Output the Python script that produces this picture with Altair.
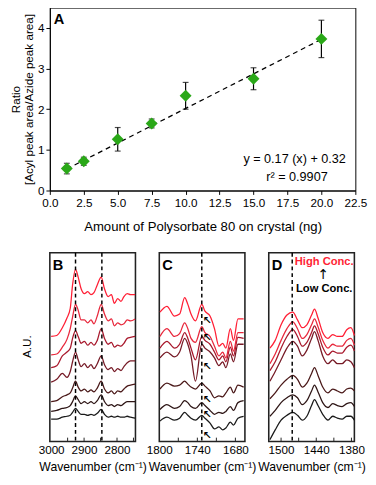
import altair as alt
import pandas as pd

FONT = "Liberation Sans"

# ---------------- Panel A data ----------------
amount = [1.25, 2.5, 5.0, 7.5, 10.0, 15.0, 20.0]
ratio = [0.54, 0.72, 1.26, 1.65, 2.33, 2.75, 3.73]
err = [0.13, 0.10, 0.29, 0.11, 0.33, 0.27, 0.46]
fit_x = [1.25, 20.0]
fit_y = [0.53, 3.72]
a_xticks = [0, 2.5, 5, 7.5, 10, 12.5, 15, 17.5, 20, 22.5]
a_yticks = [0, 1, 2, 3, 4]

# ---------------- Spectra (low conc. -> high conc.) ----------------
series = ["c1", "c2", "c3", "c4", "c5", "c6", "c7"]
colors = ["#1a1a1a", "#2e1616", "#4a1818", "#761a26", "#a8182c", "#e8283c", "#ff1f35"]

wn_b = [3000, 2983, 2966, 2952, 2942, 2935, 2926, 2918, 2909, 2899, 2889, 2879, 2870,
        2860, 2848, 2838, 2827, 2817, 2808, 2798, 2788, 2779, 2769, 2759, 2745]
b1 = [23, 23, 25, 26, 27, 30, 34, 31, 28, 28, 27, 28, 27, 29, 33, 28, 25, 26, 25, 26, 25, 25, 26, 25, 24]
b2 = [31, 32, 34, 35, 37, 41, 47, 43, 39, 41, 39, 41, 39, 42, 48, 41, 37, 38, 36, 38, 37, 39, 41, 41, 41]
b3 = [41, 42, 46, 48, 50, 55, 62, 56, 52, 54, 51, 53, 51, 55, 62, 54, 50, 52, 49, 52, 51, 54, 57, 58, 59]
b4 = [61, 64, 70, 66, 72, 82, 92, 84, 77, 80, 76, 79, 75, 80, 88, 79, 74, 76, 72, 75, 73, 77, 81, 83, 83]
b5 = [76, 78, 88, 92, 96, 106, 114, 108, 101, 103, 99, 102, 99, 104, 116, 106, 100, 102, 97, 99, 98, 101, 106, 107, 108]
b6 = [89, 90, 97, 105, 116, 128, 141, 135, 125, 125, 122, 125, 121, 129, 141, 131, 124, 126, 119, 122, 120, 121, 125, 124, 126]
b7 = [108, 109, 117, 127, 137, 161, 177, 169, 157, 152, 154, 151, 153, 161, 169, 157, 149, 151, 142, 147, 144, 149, 152, 151, 151]
b_dash = [2926, 2846]
b_labels = [3000, 2900, 2800]
b_ticks = [2950, 2900, 2850, 2800, 2750]

wn_c = [1799, 1788, 1776, 1768, 1760, 1755, 1750, 1743, 1733, 1728, 1720, 1713, 1706,
        1700, 1695, 1688, 1683, 1676, 1667]
c1 = [21, 25, 22, 24, 30, 27, 24, 22, 27, 24, 19, 13, 15, 12, 14, 20, 17, 24, 26]
c2 = [33, 38, 34, 36, 42, 40, 36, 34, 40, 37, 32, 28, 30, 29, 31, 36, 32, 40, 42]
c3 = [54, 60, 57, 58, 62, 59, 56, 54, 60, 57, 52, 45, 47, 46, 50, 56, 50, 58, 56]
c4 = [86, 92, 87, 92, 106, 100, 88, 62, 100, 96, 92, 86, 78, 82, 76, 90, 82, 100, 100]
c5 = [96, 103, 96, 100, 112, 106, 96, 84, 108, 104, 100, 92, 84, 88, 82, 97, 88, 107, 106]
c6 = [108, 116, 108, 111, 122, 116, 106, 102, 118, 112, 108, 98, 88, 92, 86, 103, 93, 112, 112]
c7 = [133, 139, 129, 131, 148, 141, 131, 124, 141, 134, 129, 116, 98, 101, 96, 116, 104, 126, 126]
c_dash = [1733]
c_labels = [1800, 1740, 1680]
c_ticks = [1770, 1740, 1710, 1680]
c_arrow_wn = [1724, 1724, 1724, 1724, 1724, 1724]
c_arrow_v = [124, 106, 77, 43, 27, 6]

wn_d = [1519, 1510, 1500, 1490, 1480, 1472, 1464, 1456, 1448, 1443, 1437, 1429, 1420,
        1412, 1404, 1396, 1388, 1381, 1375]
d1 = [2, 12, 22, 27, 30, 27, 22, 26, 37, 43, 37, 28, 22, 26, 24, 23, 26, 26, 22]
d2 = [26, 32, 40, 45, 48, 45, 38, 42, 52, 58, 51, 40, 35, 39, 37, 36, 39, 40, 36]
d3 = [44, 50, 58, 64, 68, 64, 56, 60, 70, 76, 68, 56, 50, 54, 52, 50, 54, 55, 52]
d4 = [62, 72, 84, 96, 103, 98, 88, 94, 106, 113, 104, 88, 80, 84, 80, 80, 84, 82, 76]
d5 = [73, 82, 96, 108, 115, 108, 98, 102, 112, 119, 111, 97, 89, 93, 91, 91, 97, 99, 93]
d6 = [80, 90, 104, 116, 123, 116, 106, 110, 120, 126, 118, 104, 96, 100, 98, 98, 104, 106, 99]
d7 = [96, 104, 120, 130, 133, 125, 117, 120, 130, 136, 127, 112, 106, 110, 108, 108, 115, 117, 109]
d_dash = [1481]
d_labels = [1500, 1440, 1380]
d_ticks = [1500, 1470, 1440, 1410, 1380]


def long_df(wn, traces):
    rows = []
    for name, vals in zip(series, traces):
        for w, v in zip(wn, vals):
            rows.append({"wn": w, "v": v, "series": name})
    return pd.DataFrame(rows)


# ---------------- Panel A ----------------
dfA = pd.DataFrame({"amount": amount, "ratio": ratio, "err": err})
x_a = alt.X("amount:Q", scale=alt.Scale(domain=[0, 22.5], nice=False, zero=False),
            axis=alt.Axis(values=a_xticks, tickCount=20, format=".1f",
                          labelOverlap=False, labelFlush=False,
                          title="Amount of Polysorbate 80 on crystal (ng)", titleFontSize=13.5,
                          tickSize=4, labelPadding=3, titlePadding=12))
y_a = alt.Y("ratio:Q", scale=alt.Scale(domain=[0, 4.5], nice=False),
            axis=alt.Axis(values=a_yticks, tickCount=20, format="d",
                          labelOverlap=False, labelFlush=False,
                          title=["Ratio", "[Acyl peak area/Azide peak area]"],
                          titleFontSize=12, titleLineHeight=14,
                          tickSize=4, labelPadding=2, titlePadding=2))

fit = alt.Chart(pd.DataFrame({"amount": fit_x, "ratio": fit_y})).mark_line(
    color="black", strokeDash=[5, 4], strokeWidth=1.3).encode(x=x_a, y=y_a)
bars = alt.Chart(dfA).transform_calculate(
    lo="datum.ratio - datum.err", hi="datum.ratio + datum.err").mark_rule(
    color="black", strokeWidth=1.2).encode(x="amount:Q", y="lo:Q", y2="hi:Q")
cap_lo = alt.Chart(dfA).transform_calculate(lo="datum.ratio - datum.err").mark_tick(
    color="black", orient="horizontal", size=6, thickness=1.2).encode(x="amount:Q", y="lo:Q")
cap_hi = alt.Chart(dfA).transform_calculate(hi="datum.ratio + datum.err").mark_tick(
    color="black", orient="horizontal", size=6, thickness=1.2).encode(x="amount:Q", y="hi:Q")
pts = alt.Chart(dfA).mark_point(shape="diamond", filled=True, size=150,
                                color="#2aa818", opacity=1).encode(x="amount:Q", y="ratio:Q")
eq = alt.Chart(pd.DataFrame({"amount": [21.8], "ratio": [0.78],
                             "t": ["y = 0.17 (x) + 0.32"]})).mark_text(
    align="right", baseline="middle", fontSize=13, font=FONT, color="black").encode(
    x="amount:Q", y="ratio:Q", text="t:N")
r2 = alt.Chart(pd.DataFrame({"amount": [18.2], "ratio": [0.34],
                             "t": ["r² = 0.9907"]})).mark_text(
    align="center", baseline="middle", fontSize=13, font=FONT, color="black").encode(
    x="amount:Q", y="ratio:Q", text="t:N")
letterA = alt.Chart(pd.DataFrame({"t": ["A"]})).mark_text(
    align="left", baseline="middle", fontSize=15, fontWeight="bold", font=FONT,
    color="black").encode(x=alt.value(4), y=alt.value(12), text="t:N")

chartA = alt.layer(fit, bars, cap_lo, cap_hi, pts, eq, r2, letterA).properties(
    width=314, height=188)


# ---------------- Spectra panels ----------------
def spectra(wn, traces, domain, labels, ticks, dashes, letter, extras, left=False):
    df = long_df(wn, traces)
    if left:
        yax = alt.Axis(title="A.U.", labels=False, ticks=False, domain=False, grid=False,
                       titleX=-17, titleY=96, titleBaseline="bottom", titleFontSize=12,
                       titleFontWeight="normal")
        y = alt.Y("v:Q", scale=alt.Scale(domain=[0, 194], nice=False), axis=yax)
    else:
        y = alt.Y("v:Q", scale=alt.Scale(domain=[0, 194], nice=False), axis=None)
    x = alt.X("wn:Q", scale=alt.Scale(domain=domain, nice=False, zero=False),
              axis=alt.Axis(values=labels, tickCount=20, format="d", title="Wavenumber (cm⁻¹)",
                            labelOverlap=False, labelFlush=False, titleFontSize=12.5,
                            ticks=False, domain=False, labelPadding=3, titlePadding=6))
    lines = alt.Chart(df).mark_line(strokeWidth=1.3, interpolate="monotone").encode(
        x=x, y=y,
        color=alt.Color("series:N", scale=alt.Scale(domain=series, range=colors), legend=None))
    dash = alt.Chart(pd.DataFrame({"wn": dashes})).mark_rule(
        color="black", strokeDash=[4, 3], strokeWidth=1.5).encode(x="wn:Q")
    tk = alt.Chart(pd.DataFrame({"wn": ticks})).mark_rule(
        color="#222", strokeWidth=1).encode(x="wn:Q", y=alt.value(194), y2=alt.value(190))
    let = alt.Chart(pd.DataFrame({"t": [letter]})).mark_text(
        align="left", baseline="middle", fontSize=15, fontWeight="bold", font=FONT,
        color="black").encode(x=alt.value(3), y=alt.value(13), text="t:N")
    layers = [lines, dash, tk, let] + extras
    return alt.layer(*layers).properties(
        width=88, height=194, view=alt.ViewBackground(stroke="#222", strokeWidth=1.6))


arrows = alt.Chart(pd.DataFrame({"wn": c_arrow_wn, "v": c_arrow_v, "t": ["↖"] * 6})).mark_text(
    fontSize=11, fontWeight="bold", font="DejaVu Sans", color="black",
    baseline="middle", align="center").encode(x="wn:Q", y="v:Q", text="t:N")

hi_txt = alt.Chart(pd.DataFrame({"t": ["High Conc."]})).mark_text(
    fontSize=11.5, fontWeight="bold", font=FONT, color="#ff1f35",
    align="center", baseline="middle").encode(x=alt.value(57), y=alt.value(10), text="t:N")
up_txt = alt.Chart(pd.DataFrame({"t": ["↑"]})).mark_text(
    fontSize=14, font="DejaVu Sans", color="black",
    align="center", baseline="middle").encode(x=alt.value(56), y=alt.value(23), text="t:N")
lo_txt = alt.Chart(pd.DataFrame({"t": ["Low Conc."]})).mark_text(
    fontSize=11.5, fontWeight="bold", font=FONT, color="black",
    align="center", baseline="middle").encode(x=alt.value(57), y=alt.value(37), text="t:N")

B = spectra(wn_b, [b1, b2, b3, b4, b5, b6, b7], [3004, 2744], b_labels, b_ticks, b_dash,
            "B", [], left=True)
C = spectra(wn_c, [c1, c2, c3, c4, c5, c6, c7], [1800, 1665], c_labels, c_ticks, c_dash,
            "C", [arrows])
D = spectra(wn_d, [d1, d2, d3, d4, d5, d6, d7], [1521, 1375], d_labels, d_ticks, d_dash,
            "D", [hi_txt, up_txt, lo_txt])

bottom = alt.hconcat(B, C, D, spacing=24.5, bounds="flush")

chart = alt.vconcat(chartA, bottom, spacing=18).properties(
    padding={"left": 0, "top": -8, "right": 0, "bottom": 2}
).configure(font=FONT).configure_view(stroke="black", strokeWidth=1).configure_axis(
    labelFontSize=12, titleFontSize=12, titleFontWeight="normal", labelColor="black",
    titleColor="black", domainColor="black", tickColor="black", grid=False,
    labelFlush=False, labelOverlap=False, labelFont=FONT, titleFont=FONT)

chart.save("out.html", embed_options={"renderer": "svg", "actions": False})
